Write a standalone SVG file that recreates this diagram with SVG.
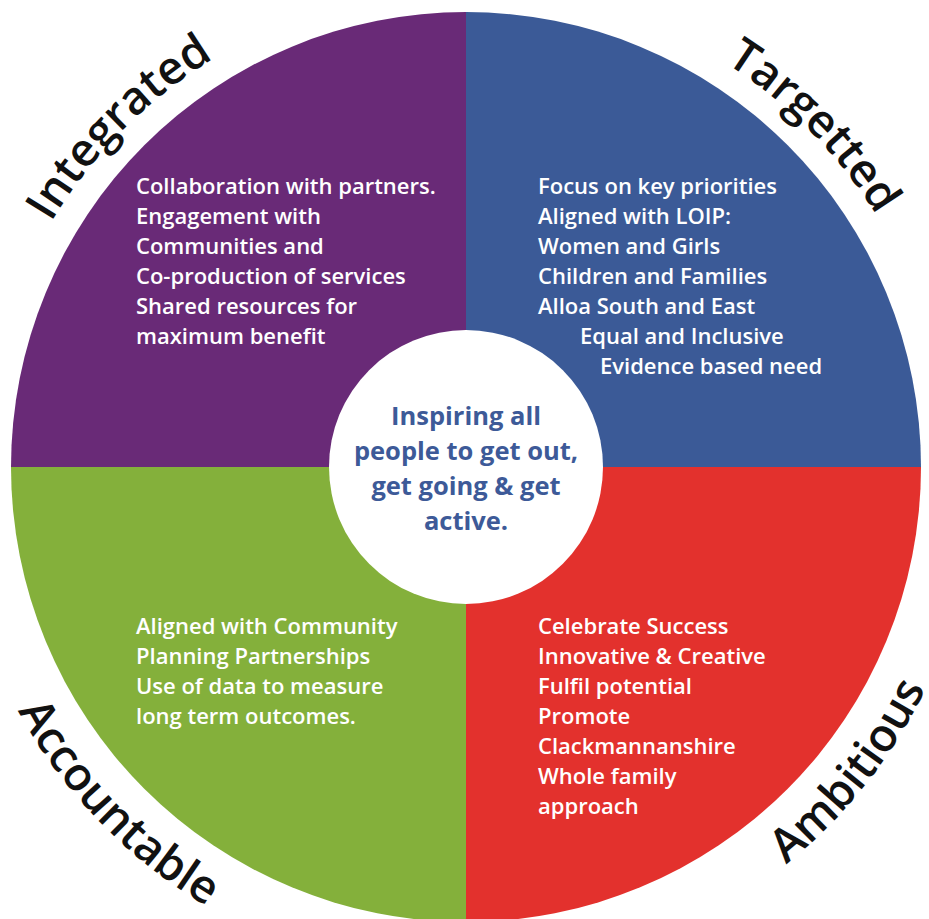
<svg xmlns="http://www.w3.org/2000/svg" width="929" height="919" viewBox="0 0 929 919">
<style>
.body{font-family:"Open Sans","Liberation Sans",sans-serif;font-weight:600;font-size:22px;fill:#ffffff}
.lbl{font-family:"Open Sans","Liberation Sans",sans-serif;font-weight:600;font-size:46px;fill:#111111}
.ctr{font-family:"Open Sans","Liberation Sans",sans-serif;font-weight:700;font-size:25.5px;fill:#3d5a98;text-anchor:middle}
</style>
<defs>
<path id="pInt" d="M1.2,339.2 A479,479 0 0 1 330.0,7.5"/>
<path id="pTar" d="M602.0,7.5 A479,479 0 0 1 930.8,339.2"/>
<path id="pAcc" d="M-28.9,590.4 A510,510 0 0 0 325.4,957.3"/>
<path id="pAmb" d="M640.4,946.2 A510,510 0 0 0 972.9,528.1"/>
</defs>
<rect width="929" height="919" fill="#ffffff"/>
<g id="integrated">
<path d="M466,467 L11,467 A455,455 0 0 1 466,12 Z" fill="#692a77"/>
<text class="lbl"><textPath href="#pInt" startOffset="50%" text-anchor="middle">Integrated</textPath></text>
<text class="body"><tspan x="136" y="194">Collaboration with partners.</tspan><tspan x="136" y="224">Engagement with</tspan><tspan x="136" y="254">Communities and</tspan><tspan x="136" y="284">Co-production of services</tspan><tspan x="136" y="314">Shared resources for</tspan><tspan x="136" y="344">maximum benefit</tspan></text>
</g>
<g id="targetted">
<path d="M466,467 L466,12 A455,455 0 0 1 921,467 Z" fill="#3b5a97"/>
<text class="lbl"><textPath href="#pTar" startOffset="50%" text-anchor="middle">Targetted</textPath></text>
<text class="body"><tspan x="538" y="194">Focus on key priorities</tspan><tspan x="538" y="224">Aligned with LOIP:</tspan><tspan x="538" y="254">Women and Girls</tspan><tspan x="538" y="284">Children and Families</tspan><tspan x="538" y="314">Alloa South and East</tspan><tspan x="580" y="344">Equal and Inclusive</tspan><tspan x="600" y="374">Evidence based need</tspan></text>
</g>
<g id="ambitious">
<path d="M466,467 L921,467 A455,455 0 0 1 466,922 Z" fill="#e3312d"/>
<text class="lbl"><textPath href="#pAmb" startOffset="50%" text-anchor="middle">Ambitious</textPath></text>
<text class="body"><tspan x="538" y="634">Celebrate Success</tspan><tspan x="538" y="664">Innovative &amp; Creative</tspan><tspan x="538" y="694">Fulfil potential</tspan><tspan x="538" y="724">Promote</tspan><tspan x="538" y="754">Clackmannanshire</tspan><tspan x="538" y="784">Whole family</tspan><tspan x="538" y="814">approach</tspan></text>
</g>
<g id="accountable">
<path d="M466,467 L466,922 A455,455 0 0 1 11,467 Z" fill="#84b03b"/>
<text class="lbl"><textPath href="#pAcc" startOffset="50%" text-anchor="middle">Accountable</textPath></text>
<text class="body"><tspan x="136" y="634">Aligned with Community</tspan><tspan x="136" y="664">Planning Partnerships</tspan><tspan x="136" y="694">Use of data to measure</tspan><tspan x="136" y="724">long term outcomes.</tspan></text>
</g>
<g id="center">
<circle cx="466" cy="467" r="137" fill="#ffffff"/>
<text class="ctr"><tspan x="466" y="425">Inspiring all</tspan><tspan x="466" y="460">people to get out,</tspan><tspan x="466" y="495">get going &amp; get</tspan><tspan x="466" y="530">active.</tspan></text>
</g>
</svg>
